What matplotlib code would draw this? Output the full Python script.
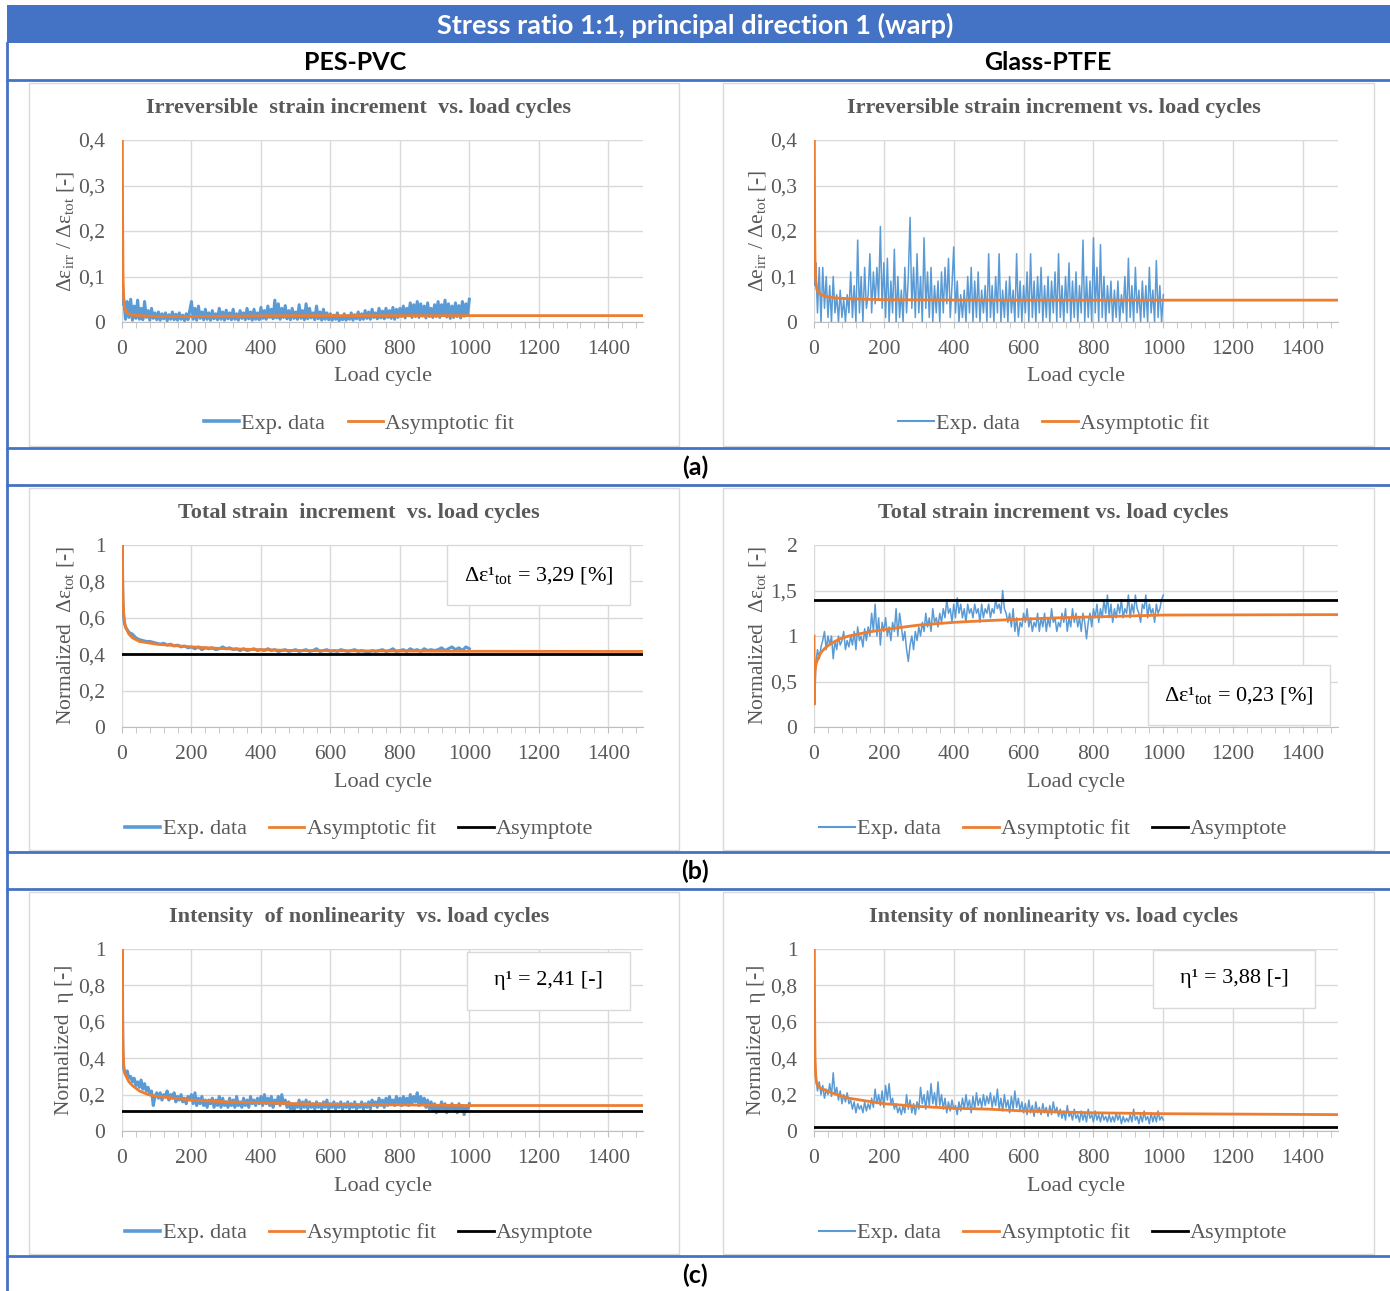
import numpy as np
import matplotlib
matplotlib.use('Agg')
import matplotlib.pyplot as plt
from matplotlib.lines import Line2D
from matplotlib.patches import Rectangle

# --- data --------------------------------------------------------------
# (a) irreversible strain increment, PES-PVC
pvc_irr_cyc = np.r_[[1, 2, 3], np.arange(5, 1001, 5)]
pvc_irr_exp = [0.09, 0.06, 0.04,
               0.05, 0.006, 0.045, 0.01, 0.05, 0.004, 0.035, 0.008, 0.048, 0.006,
               0.03, 0.005, 0.045, 0.01, 0.025, 0.004, 0.03, 0.008, 0.02, 0.005,
               0.022, 0.004, 0.018, 0.007, 0.02, 0.003, 0.016, 0.006, 0.022, 0.005,
               0.017, 0.004, 0.02, 0.006, 0.015, 0.003, 0.018, 0.005, 0.025, 0.045,
               0.006, 0.03, 0.004, 0.035, 0.008, 0.022, 0.005, 0.028, 0.006, 0.02,
               0.004, 0.025, 0.007, 0.018, 0.005, 0.03, 0.006, 0.022, 0.004, 0.026,
               0.007, 0.02, 0.005, 0.028, 0.006, 0.018, 0.004, 0.025, 0.008, 0.02,
               0.005, 0.03, 0.007, 0.022, 0.004, 0.028, 0.006, 0.02, 0.005, 0.032,
               0.008, 0.025, 0.006, 0.035, 0.01, 0.028, 0.007, 0.048, 0.009, 0.04,
               0.006, 0.03, 0.01, 0.036, 0.007, 0.025, 0.005, 0.03, 0.008, 0.022,
               0.006, 0.038, 0.008, 0.025, 0.005, 0.04, 0.007, 0.03, 0.009, 0.02,
               0.005, 0.035, 0.007, 0.022, 0.004, 0.028, 0.006, 0.02, 0.005, 0.018,
               0.004, 0.015, 0.006, 0.02, 0.003, 0.012, 0.005, 0.018, 0.004, 0.014,
               0.006, 0.02, 0.004, 0.016, 0.007, 0.022, 0.005, 0.018, 0.006, 0.025,
               0.008, 0.022, 0.006, 0.028, 0.01, 0.02, 0.007, 0.03, 0.009, 0.024,
               0.007, 0.03, 0.01, 0.025, 0.008, 0.032, 0.006, 0.028, 0.01, 0.03,
               0.012, 0.035, 0.009, 0.03, 0.014, 0.042, 0.01, 0.038, 0.012, 0.045,
               0.01, 0.04, 0.013, 0.035, 0.009, 0.042, 0.012, 0.03, 0.01, 0.038,
               0.012, 0.045, 0.01, 0.038, 0.014, 0.048, 0.011, 0.04, 0.008, 0.035,
               0.01, 0.042, 0.012, 0.036, 0.009, 0.045, 0.013, 0.04, 0.015, 0.05]
pvc_irr_fit_cyc = [1, 2, 3, 5, 8, 12, 20, 30, 50, 100, 200, 330, 500, 1000, 1500]
pvc_irr_fit = [0.4, 0.2, 0.1, 0.05, 0.03, 0.022, 0.017, 0.015, 0.014, 0.012,
               0.012, 0.013, 0.014, 0.014, 0.014]

# (a) irreversible strain increment, Glass-PTFE
ptfe_irr_cyc = np.r_[[1, 2, 3, 4], np.arange(5, 1001, 5)]
ptfe_irr_exp = [0.27, 0.16, 0.08, 0.12,
                0.13, 0.02, 0.12, 0.0, 0.12, 0.03, 0.1, 0.01, 0.08, 0.0,
                0.1, 0.02, 0.06, 0.0, 0.07, 0.01, 0.05, 0.0, 0.06, 0.02,
                0.11, 0.01, 0.08, 0.0, 0.18, 0.02, 0.1, 0.0, 0.12, 0.03,
                0.06, 0.15, 0.02, 0.11, 0.04, 0.12, 0.05, 0.21, 0.03, 0.13,
                0.01, 0.14, 0.0, 0.09, 0.02, 0.16, 0.0, 0.1, 0.01, 0.07,
                0.0, 0.12, 0.02, 0.1, 0.23, 0.03, 0.12, 0.01, 0.15, 0.02,
                0.1, 0.0, 0.185, 0.03, 0.11, 0.01, 0.12, 0.0, 0.08, 0.02,
                0.09, 0.0, 0.11, 0.02, 0.12, 0.04, 0.14, 0.01, 0.08, 0.165,
                0.02, 0.09, 0.0, 0.06, 0.01, 0.07, 0.0, 0.1, 0.02, 0.12,
                0.0, 0.09, 0.01, 0.11, 0.0, 0.07, 0.02, 0.08, 0.0, 0.15,
                0.01, 0.08, 0.0, 0.1, 0.02, 0.15, 0.0, 0.07, 0.01, 0.09,
                0.0, 0.1, 0.02, 0.07, 0.0, 0.15, 0.01, 0.09, 0.0, 0.08,
                0.02, 0.11, 0.0, 0.15, 0.01, 0.09, 0.0, 0.1, 0.02, 0.12,
                0.0, 0.08, 0.01, 0.1, 0.0, 0.09, 0.02, 0.11, 0.0, 0.15,
                0.01, 0.08, 0.0, 0.1, 0.02, 0.13, 0.0, 0.09, 0.01, 0.11,
                0.0, 0.08, 0.02, 0.18, 0.0, 0.1, 0.01, 0.09, 0.0, 0.185,
                0.02, 0.12, 0.0, 0.17, 0.01, 0.1, 0.0, 0.08, 0.02, 0.09,
                0.0, 0.07, 0.01, 0.09, 0.0, 0.06, 0.02, 0.1, 0.0, 0.14,
                0.01, 0.08, 0.0, 0.12, 0.02, 0.07, 0.0, 0.09, 0.01, 0.08,
                0.0, 0.12, 0.02, 0.07, 0.0, 0.135, 0.01, 0.08, 0.0, 0.06]
ptfe_irr_fit_cyc = [1, 2, 3, 5, 8, 12, 20, 35, 60, 100, 200, 500, 1000, 1500]
ptfe_irr_fit = [0.4, 0.2, 0.13, 0.09, 0.072, 0.065, 0.06, 0.056, 0.053, 0.051,
                0.049, 0.048, 0.048, 0.048]

# (b) normalized total strain increment, PES-PVC
pvc_tot_cyc = np.r_[[1, 2, 3, 5, 7], np.arange(10, 1001, 10)]
pvc_tot_exp = [1.0, 0.75, 0.66, 0.6, 0.57,
               0.55, 0.52, 0.51, 0.49, 0.48, 0.475, 0.47, 0.47, 0.465, 0.46,
               0.455, 0.46, 0.45, 0.455, 0.445, 0.45, 0.44, 0.445, 0.435, 0.44,
               0.43, 0.44, 0.425, 0.435, 0.43, 0.435, 0.425, 0.43, 0.44, 0.43,
               0.435, 0.425, 0.43, 0.42, 0.43, 0.42, 0.425, 0.43, 0.42, 0.425,
               0.42, 0.43, 0.42, 0.425, 0.415, 0.42, 0.425, 0.415, 0.42, 0.425,
               0.415, 0.42, 0.425, 0.415, 0.42, 0.43, 0.415, 0.42, 0.425, 0.415,
               0.42, 0.415, 0.425, 0.42, 0.415, 0.42, 0.425, 0.415, 0.42, 0.415,
               0.41, 0.42, 0.415, 0.42, 0.425, 0.415, 0.42, 0.43, 0.415, 0.42,
               0.425, 0.415, 0.43, 0.42, 0.425, 0.415, 0.43, 0.42, 0.425, 0.42,
               0.425, 0.435, 0.42, 0.43, 0.44, 0.425, 0.435, 0.42, 0.44, 0.43]
pvc_tot_fit_cyc = [1, 2, 3, 5, 8, 12, 20, 30, 50, 100, 200, 300, 500, 700, 1000, 1500]
pvc_tot_fit = [1.0, 0.8, 0.7, 0.62, 0.57, 0.54, 0.51, 0.49, 0.47, 0.455, 0.44,
               0.43, 0.42, 0.418, 0.416, 0.415]
pvc_tot_asym = 0.4
pvc_tot_note = 'Δε¹$_{\\mathrm{tot}}$ = 3,29 [%]'

# (b) normalized total strain increment, Glass-PTFE
ptfe_tot_cyc = np.r_[[2, 3], np.arange(5, 1001, 5)]
ptfe_tot_exp = [0.45, 0.35,
                0.7, 0.85, 0.75, 0.88, 0.95, 1.05, 0.85, 1.0, 0.9, 1.0,
                0.75, 0.95, 0.85, 1.0, 0.9, 0.95, 1.05, 0.85, 0.95, 0.88,
                1.0, 0.9, 1.05, 0.85, 1.1, 0.95, 1.0, 0.88, 1.08, 0.95,
                1.1, 1.0, 1.25, 1.05, 1.35, 1.0, 1.2, 0.9, 1.15, 1.05,
                1.2, 1.0, 1.1, 0.95, 1.15, 1.05, 1.3, 1.0, 1.25, 1.1,
                0.95, 1.05, 0.85, 0.72, 0.9, 1.0, 0.85, 1.05, 0.95, 1.1,
                1.0, 1.15, 1.05, 1.25, 1.1, 1.2, 1.05, 1.3, 1.15, 1.2,
                1.1, 1.25, 1.15, 1.3, 1.2, 1.4, 1.25, 1.3, 1.15, 1.35,
                1.2, 1.42, 1.25, 1.35, 1.2, 1.3, 1.15, 1.35, 1.25, 1.3,
                1.2, 1.35, 1.25, 1.3, 1.15, 1.35, 1.2, 1.3, 1.25, 1.35,
                1.2, 1.3, 1.25, 1.4, 1.3, 1.35, 1.25, 1.5, 1.3, 1.25,
                1.15, 1.25, 1.1, 1.3, 1.05, 1.2, 1.0, 1.15, 1.1, 1.25,
                1.15, 1.3, 1.1, 1.2, 1.05, 1.15, 1.1, 1.25, 1.05, 1.2,
                1.1, 1.25, 1.05, 1.2, 1.1, 1.3, 1.15, 1.2, 1.05, 1.15,
                1.1, 1.25, 1.15, 1.3, 1.05, 1.2, 1.1, 1.3, 1.15, 1.25,
                1.1, 1.2, 1.05, 1.25, 1.15, 0.97, 1.15, 1.25, 1.1, 1.3,
                1.2, 1.35, 1.15, 1.3, 1.2, 1.4, 1.25, 1.45, 1.2, 1.35,
                1.15, 1.3, 1.2, 1.35, 1.25, 1.4, 1.2, 1.3, 1.25, 1.45,
                1.2, 1.35, 1.25, 1.45, 1.3, 1.25, 1.15, 1.35, 1.3, 1.45,
                1.2, 1.35, 1.25, 1.3, 1.15, 1.35, 1.25, 1.3, 1.4, 1.45]
ptfe_tot_fit_cyc = [0, 1, 2, 3, 5, 10, 20, 35, 50, 75, 100, 150, 200, 300, 400,
                    500, 700, 900, 1000, 1500]
ptfe_tot_fit = [1.0, 0.25, 0.55, 0.62, 0.68, 0.74, 0.82, 0.88, 0.92, 0.97, 1.0,
                1.04, 1.07, 1.12, 1.15, 1.17, 1.2, 1.22, 1.23, 1.235]
ptfe_tot_asym = 1.4
ptfe_tot_note = 'Δε¹$_{\\mathrm{tot}}$ = 0,23 [%]'

# (c) normalized intensity of nonlinearity, PES-PVC
pvc_eta_cyc = np.r_[[1, 2, 3], np.arange(5, 1001, 5)]
pvc_eta_exp = [1.0, 0.5, 0.4,
               0.34, 0.31, 0.33, 0.29, 0.3, 0.27, 0.29, 0.25, 0.27, 0.24,
               0.28, 0.23, 0.26, 0.22, 0.24, 0.2, 0.22, 0.14, 0.19, 0.21,
               0.18, 0.21, 0.17, 0.2, 0.19, 0.22, 0.17, 0.2, 0.18, 0.21,
               0.16, 0.19, 0.17, 0.2, 0.16, 0.18, 0.15, 0.19, 0.17, 0.2,
               0.15, 0.21, 0.14, 0.18, 0.15, 0.19, 0.14, 0.17, 0.13, 0.17,
               0.15, 0.18, 0.13, 0.17, 0.14, 0.19, 0.13, 0.18, 0.14, 0.16,
               0.13, 0.18, 0.14, 0.17, 0.13, 0.19, 0.14, 0.16, 0.13, 0.18,
               0.14, 0.17, 0.13, 0.19, 0.15, 0.17, 0.14, 0.18, 0.15, 0.19,
               0.14, 0.2, 0.15, 0.18, 0.14, 0.19, 0.13, 0.17, 0.15, 0.19,
               0.14, 0.2, 0.15, 0.17, 0.13, 0.16, 0.12, 0.15, 0.11, 0.15,
               0.13, 0.17, 0.12, 0.16, 0.13, 0.17, 0.12, 0.16, 0.13, 0.15,
               0.12, 0.16, 0.13, 0.15, 0.12, 0.16, 0.13, 0.17, 0.12, 0.15,
               0.13, 0.16, 0.12, 0.15, 0.13, 0.16, 0.12, 0.15, 0.13, 0.16,
               0.12, 0.15, 0.13, 0.16, 0.12, 0.14, 0.13, 0.16, 0.12, 0.15,
               0.13, 0.16, 0.12, 0.17, 0.14, 0.16, 0.13, 0.18, 0.14, 0.17,
               0.13, 0.18, 0.14, 0.19, 0.15, 0.17, 0.14, 0.19, 0.15, 0.18,
               0.14, 0.19, 0.15, 0.18, 0.14, 0.2, 0.15, 0.19, 0.16, 0.21,
               0.14, 0.19, 0.15, 0.18, 0.13, 0.17, 0.12, 0.16, 0.11, 0.15,
               0.1, 0.14, 0.11, 0.16, 0.12, 0.15, 0.1, 0.14, 0.12, 0.15,
               0.11, 0.14, 0.1, 0.15, 0.12, 0.14, 0.09, 0.13, 0.11, 0.15]
pvc_eta_fit_cyc = [1, 2, 3, 5, 8, 12, 20, 30, 50, 75, 100, 150, 200, 300, 400,
                   500, 700, 1000, 1500]
pvc_eta_fit = [1.0, 0.6, 0.45, 0.36, 0.32, 0.3, 0.27, 0.25, 0.22, 0.2, 0.19,
               0.18, 0.17, 0.16, 0.155, 0.15, 0.145, 0.14, 0.14]
pvc_eta_asym = 0.11
pvc_eta_note = 'η¹ = 2,41 [-]'

# (c) normalized intensity of nonlinearity, Glass-PTFE
ptfe_eta_cyc = np.r_[[1, 2, 3], np.arange(5, 1001, 5)]
ptfe_eta_exp = [0.5, 0.42, 0.38,
                0.3, 0.22, 0.27, 0.2, 0.25, 0.18, 0.23, 0.2, 0.26, 0.19,
                0.32, 0.2, 0.24, 0.17, 0.22, 0.15, 0.2, 0.16, 0.21, 0.15,
                0.17, 0.12, 0.16, 0.1, 0.15, 0.12, 0.14, 0.1, 0.16, 0.11,
                0.15, 0.12, 0.18, 0.13, 0.23, 0.15, 0.2, 0.14, 0.22, 0.13,
                0.25, 0.17, 0.26, 0.15, 0.18, 0.12, 0.15, 0.1, 0.13, 0.09,
                0.14, 0.1, 0.2, 0.12, 0.17, 0.1, 0.15, 0.09, 0.16, 0.12,
                0.24, 0.15, 0.2, 0.12, 0.22, 0.14, 0.26, 0.15, 0.21, 0.13,
                0.27, 0.14, 0.2, 0.12, 0.18, 0.1, 0.16, 0.11, 0.17, 0.12,
                0.14, 0.09, 0.16, 0.11, 0.18, 0.12, 0.2, 0.13, 0.17, 0.1,
                0.19, 0.12, 0.21, 0.14, 0.18, 0.13, 0.2, 0.14, 0.19, 0.15,
                0.21, 0.13, 0.19, 0.14, 0.23, 0.12, 0.18, 0.11, 0.2, 0.13,
                0.17, 0.1, 0.19, 0.12, 0.22, 0.13, 0.18, 0.11, 0.16, 0.1,
                0.15, 0.09, 0.17, 0.1, 0.14, 0.08, 0.16, 0.1, 0.13, 0.09,
                0.15, 0.1, 0.13, 0.08, 0.14, 0.09, 0.16, 0.1, 0.13, 0.08,
                0.12, 0.07, 0.11, 0.06, 0.14, 0.08, 0.1, 0.06, 0.12, 0.07,
                0.09, 0.05, 0.11, 0.06, 0.1, 0.05, 0.12, 0.07, 0.09, 0.05,
                0.11, 0.06, 0.09, 0.05, 0.1, 0.06, 0.08, 0.05, 0.09, 0.05,
                0.08, 0.05, 0.1, 0.06, 0.09, 0.04, 0.08, 0.05, 0.07, 0.05,
                0.09, 0.05, 0.12, 0.06, 0.08, 0.04, 0.09, 0.05, 0.11, 0.06,
                0.08, 0.04, 0.1, 0.05, 0.09, 0.05, 0.11, 0.06, 0.08, 0.06]
ptfe_eta_fit_cyc = [1, 2, 3, 5, 8, 12, 20, 50, 100, 200, 300, 400, 500, 600,
                    700, 800, 1000, 1500]
ptfe_eta_fit = [1.0, 0.6, 0.4, 0.3, 0.26, 0.245, 0.235, 0.21, 0.18, 0.15, 0.135,
                0.125, 0.12, 0.11, 0.105, 0.1, 0.095, 0.09]
ptfe_eta_asym = 0.02
ptfe_eta_note = 'η¹ = 3,88 [-]'

x_ticks = [0, 200, 400, 600, 800, 1000, 1200, 1400]
y_ticks_irr = [0, 0.1, 0.2, 0.3, 0.4]
y_labels_irr = ['0', '0,1', '0,2', '0,3', '0,4']
y_ticks_1 = [0, 0.2, 0.4, 0.6, 0.8, 1.0]
y_labels_1 = ['0', '0,2', '0,4', '0,6', '0,8', '1']
y_ticks_2 = [0, 0.5, 1.0, 1.5, 2.0]
y_labels_2 = ['0', '0,5', '1', '1,5', '2']

# --- style -----------------------------------------------------------------
W, H = 1390, 1291
BLUE = '#4472C4'
EXP = '#5B9BD5'
FIT = '#ED7D31'
GREY = '#595959'
GRID = '#D9D9D9'

plt.rcParams['font.family'] = ['Liberation Serif', 'DejaVu Serif']
plt.rcParams['mathtext.fontset'] = 'custom'
plt.rcParams['mathtext.rm'] = 'Liberation Serif'
plt.rcParams['mathtext.it'] = 'Liberation Serif:italic'

fig = plt.figure(figsize=(W / 100, H / 100), dpi=100)


def fy(y):
    return 1 - y / H


def fx(x):
    return x / W


# table frame
fig.add_artist(Rectangle((fx(7), fy(43)), fx(W - 7), 38 / H, color=BLUE, lw=0))
for y in [80, 448, 485, 852, 889, 1256]:
    fig.add_artist(Line2D([fx(7), 1], [fy(y), fy(y)], color=BLUE, lw=2))
fig.add_artist(Line2D([fx(7), fx(7)], [fy(43), 0], color=BLUE, lw=2))

fig.text(0.5, fy(25), 'Stress ratio 1:1, principal direction 1 (warp)', color='white',
         ha='center', va='center', fontsize=19.5, fontweight='bold', family='Lato')
fig.text(fx(355), fy(63), 'PES-PVC', ha='center', va='center', fontsize=18,
         fontweight='bold', family='Lato')
fig.text(fx(1048), fy(63), 'Glass-PTFE', ha='center', va='center', fontsize=18,
         fontweight='bold', family='Lato')
for lab, y in [('(a)', 467), ('(b)', 871), ('(c)', 1275)]:
    fig.text(0.5, fy(y), lab, ha='center', va='center', fontsize=18,
             fontweight='bold', family='Lato')

cols = {'left': (122, 643, 29, 679), 'right': (814, 1338, 723, 1374)}
rows = {'a': (140, 322, 108, 83, 446), 'b': (545, 727, 513, 488, 850),
        'c': (949, 1131, 917, 892, 1254)}


def panel(col, row, title, ylabel, cyc, exp, fit_cyc, fit, yticks, ylabels,
          asym=None, note=None, note_box=None, exp_lw=2.2):
    x0, x1, bx0, bx1 = cols[col]
    top, bot, ty, by0, by1 = rows[row]
    fig.add_artist(Rectangle((fx(bx0), fy(by1)), fx(bx1 - bx0), (by1 - by0) / H,
                             fill=False, ec=GRID, lw=1))
    ax = fig.add_axes([fx(x0), fy(bot), fx(x1 - x0), (bot - top) / H])
    ax.plot(cyc, exp, color=EXP, lw=exp_lw, zorder=3)
    ax.plot(fit_cyc, fit, color=FIT, lw=2, zorder=4)
    handles = [Line2D([], [], color=EXP, lw=exp_lw + 0.4), Line2D([], [], color=FIT, lw=2)]
    labels = ['Exp. data', 'Asymptotic fit']
    if asym is not None:
        ax.plot([0, 1500], [asym, asym], color='black', lw=2, zorder=5)
        handles.append(Line2D([], [], color='black', lw=2))
        labels.append('Asymptote')

    ax.set_xlim(0, 1500)
    ax.set_ylim(yticks[0], yticks[-1])
    ax.set_xticks(x_ticks)
    ax.set_xticks(np.arange(0, 1501, 40), minor=True)
    ax.set_yticks(yticks)
    ax.set_yticklabels(ylabels)
    ax.grid(True, color=GRID, lw=1)
    ax.set_axisbelow(True)
    for s in ['top', 'right', 'left']:
        ax.spines[s].set_visible(False)
    ax.spines['bottom'].set_color('#BFBFBF')
    ax.tick_params(axis='x', which='both', length=4, color='#BFBFBF', labelsize=15.5,
                   labelcolor=GREY, pad=9)
    ax.tick_params(axis='y', length=0, labelsize=15.5, labelcolor=GREY, pad=12)

    cx = (bx0 + bx1) / 2 + 5
    fig.text(fx(cx), fy(ty), title, ha='center', va='center', fontsize=16,
             fontweight='bold', color=GREY)
    fig.text(fx((x0 + x1) / 2), fy(bot + 55), 'Load cycle', ha='center', va='center',
             fontsize=16, color=GREY)
    fig.text(fx(x0 - 57), fy((top + bot) / 2), ylabel, ha='center', va='center',
             rotation=90, fontsize=15.5, color=GREY)
    ax.legend(handles, labels, loc='center', bbox_to_anchor=(fx(cx), fy(bot + 102)),
              bbox_transform=fig.transFigure, ncol=len(labels), frameon=False,
              fontsize=16, labelcolor=GREY, handlelength=1.6, handletextpad=0.1,
              columnspacing=1.0)

    if note is not None:
        nx0, ny0, nx1, ny1 = note_box
        ax.add_patch(Rectangle((fx(nx0), fy(ny1)), fx(nx1 - nx0), (ny1 - ny0) / H,
                               transform=fig.transFigure, fc='white', ec=GRID, lw=1,
                               clip_on=False, zorder=6))
        ax.text(fx((nx0 + nx1) / 2), fy((ny0 + ny1) / 2), note, transform=fig.transFigure,
                ha='center', va='center', fontsize=16, color='black', zorder=7)
    return ax


panel('left', 'a', 'Irreversible  strain increment  vs. load cycles',
      'Δε$_{\\mathrm{irr}}$ / Δε$_{\\mathrm{tot}}$ [-]',
      pvc_irr_cyc, pvc_irr_exp, pvc_irr_fit_cyc, pvc_irr_fit, y_ticks_irr, y_labels_irr)
panel('right', 'a', 'Irreversible strain increment vs. load cycles',
      'Δe$_{\\mathrm{irr}}$ / Δe$_{\\mathrm{tot}}$ [-]',
      ptfe_irr_cyc, ptfe_irr_exp, ptfe_irr_fit_cyc, ptfe_irr_fit, y_ticks_irr, y_labels_irr,
      exp_lw=1.1)
panel('left', 'b', 'Total strain  increment  vs. load cycles',
      'Normalized  Δε$_{\\mathrm{tot}}$ [-]',
      pvc_tot_cyc, pvc_tot_exp, pvc_tot_fit_cyc, pvc_tot_fit, y_ticks_1, y_labels_1,
      asym=pvc_tot_asym, note=pvc_tot_note, note_box=(447, 545, 630, 605))
panel('right', 'b', 'Total strain increment vs. load cycles',
      'Normalized  Δε$_{\\mathrm{tot}}$ [-]',
      ptfe_tot_cyc, ptfe_tot_exp, ptfe_tot_fit_cyc, ptfe_tot_fit, y_ticks_2, y_labels_2,
      asym=ptfe_tot_asym, note=ptfe_tot_note, note_box=(1148, 665, 1330, 725), exp_lw=1.1)
panel('left', 'c', 'Intensity  of nonlinearity  vs. load cycles',
      'Normalized  η [-]',
      pvc_eta_cyc, pvc_eta_exp, pvc_eta_fit_cyc, pvc_eta_fit, y_ticks_1, y_labels_1,
      asym=pvc_eta_asym, note=pvc_eta_note, note_box=(467, 952, 630, 1010))
panel('right', 'c', 'Intensity of nonlinearity vs. load cycles',
      'Normalized  η [-]',
      ptfe_eta_cyc, ptfe_eta_exp, ptfe_eta_fit_cyc, ptfe_eta_fit, y_ticks_1, y_labels_1,
      asym=ptfe_eta_asym, note=ptfe_eta_note, note_box=(1153, 950, 1315, 1008), exp_lw=1.1)

fig.savefig('out.png', dpi=100)
